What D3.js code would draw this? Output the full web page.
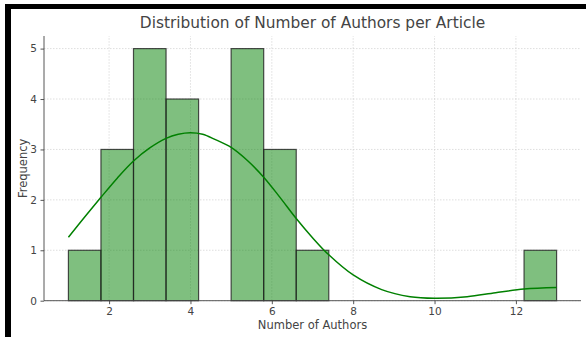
<!DOCTYPE html>
<html>
<head>
<meta charset="utf-8">
<script src="https://cdn.jsdelivr.net/npm/d3@7"></script>
<style>
  body { margin: 0; background: #fff; }
  text { font-family: "DejaVu Sans", sans-serif; fill: #444; }
</style>
</head>
<body>
<div id="chart"></div>
<script>
// histogram bins (width 0.8 from 1 to 13) and counts
const binEdges = [1, 1.8, 2.6, 3.4, 4.2, 5.0, 5.8, 6.6, 7.4, 8.2, 9.0, 9.8, 10.6, 11.4, 12.2, 13];
const counts = [1, 3, 5, 4, 0, 5, 3, 1, 0, 0, 0, 0, 0, 0, 1];

// kde curve
const kdeX = [1, 1.4, 1.8, 2.2, 2.6, 3.0, 3.4, 3.7, 4.0, 4.3, 4.6, 5.0, 5.4, 5.8, 6.2, 6.6, 7.0, 7.4, 8.0, 8.7, 9.4, 10.0, 10.8, 11.5, 12.2, 13];
const kdeY = [1.26, 1.66, 2.05, 2.43, 2.77, 3.03, 3.22, 3.30, 3.33, 3.30, 3.20, 3.04, 2.78, 2.45, 2.05, 1.63, 1.25, 0.91, 0.51, 0.22, 0.08, 0.05, 0.08, 0.16, 0.23, 0.26];

const xTicks = [2, 4, 6, 8, 10, 12];
const yTicks = [0, 1, 2, 3, 4, 5];

const width = 586, height = 337;
const svg = d3.select("#chart").append("svg")
  .attr("width", width)
  .attr("height", height);

// screenshot frame
svg.append("rect").attr("x", 5).attr("y", 4).attr("width", width - 5).attr("height", 5).attr("fill", "#000");
svg.append("rect").attr("x", 5).attr("y", 4).attr("width", 6).attr("height", height - 4).attr("fill", "#000");

const x = d3.scaleLinear().domain([0.4, 13.6]).range([44, 581]);
const y = d3.scaleLinear().domain([0, 5.25]).range([300.7, 36]);

// grid
const grid = svg.append("g").attr("stroke", "#c8c8c8").attr("stroke-width", 0.6)
  .attr("stroke-dasharray", "1.5,1.5");
grid.selectAll(".gx").data(xTicks).join("line")
  .attr("x1", d => x(d)).attr("x2", d => x(d))
  .attr("y1", y.range()[0]).attr("y2", y.range()[1]);
grid.selectAll(".gy").data(yTicks).join("line")
  .attr("y1", d => y(d)).attr("y2", d => y(d))
  .attr("x1", x.range()[0]).attr("x2", x.range()[1]);

// bars
const bins = counts.map((c, i) => ({x0: binEdges[i], x1: binEdges[i + 1], n: c}));
svg.append("g").selectAll("rect").data(bins.filter(d => d.n > 0)).join("rect")
  .attr("x", d => x(d.x0))
  .attr("width", d => x(d.x1) - x(d.x0))
  .attr("y", d => y(d.n))
  .attr("height", d => y(0) - y(d.n))
  .attr("fill", "rgba(0,128,0,0.5)")
  .attr("stroke", "#222")
  .attr("stroke-opacity", 0.8)
  .attr("stroke-width", 1.2);

// kde line
const line = d3.line().x(d => x(d[0])).y(d => y(d[1])).curve(d3.curveCatmullRom);
svg.append("path")
  .datum(kdeX.map((v, i) => [v, kdeY[i]]))
  .attr("d", line)
  .attr("fill", "none")
  .attr("stroke", "#008000")
  .attr("stroke-width", 1.5);

// axes
const xAxis = svg.append("g").attr("transform", `translate(0,${y(0)})`)
  .call(d3.axisBottom(x).tickValues(xTicks).tickSize(3.5).tickPadding(3.5).tickFormat(d3.format("d")));
const yAxis = svg.append("g").attr("transform", `translate(${x.range()[0]},0)`)
  .call(d3.axisLeft(y).tickValues(yTicks).tickSize(3.5).tickPadding(3.5).tickFormat(d3.format("d")));
[xAxis, yAxis].forEach(a => {
  a.select(".domain").attr("stroke", "#444").attr("stroke-width", 0.9);
  a.selectAll(".tick line").attr("stroke", "#444").attr("stroke-width", 0.9);
  a.selectAll("text").attr("font-size", 10.5).attr("fill", "#444").attr("font-family", "DejaVu Sans");
});
xAxis.select(".domain").attr("d", `M${x.range()[0]},0H${x.range()[1]}`);
yAxis.select(".domain").attr("d", `M0,${y.range()[0]}V${y.range()[1]}`);

// labels
svg.append("text").attr("x", 312.5).attr("y", 28).attr("text-anchor", "middle")
  .attr("font-size", 15.4).attr("fill", "#444").text("Distribution of Number of Authors per Article");
svg.append("text").attr("x", 312.5).attr("y", 329).attr("text-anchor", "middle")
  .attr("font-size", 11.5).text("Number of Authors");
svg.append("text").attr("transform", `translate(27,${(y.range()[0] + y.range()[1]) / 2}) rotate(-90)`)
  .attr("text-anchor", "middle").attr("font-size", 11.5).text("Frequency");
</script>
</body>
</html>
